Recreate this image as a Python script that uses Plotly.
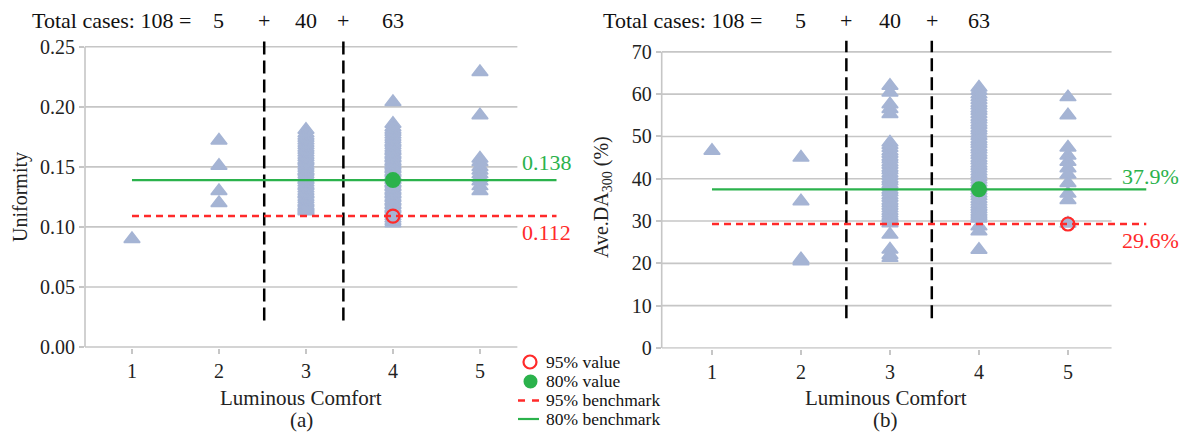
import plotly.graph_objects as go
from plotly.subplots import make_subplots

W, H = 1185, 433
FONT = "Liberation Serif, Times New Roman, serif"

# ---------------- data ----------------
lc_ticks = [1, 2, 3, 4, 5]

# Uniformity by luminous comfort level
uni_lc1 = [0.090]
uni_lc2 = [0.172, 0.151, 0.130, 0.120]
uni_lc3 = [0.181, 0.178, 0.176, 0.174, 0.172, 0.170, 0.168, 0.166, 0.164, 0.162,
           0.160, 0.158, 0.156, 0.155, 0.153, 0.151, 0.149, 0.147, 0.146, 0.144,
           0.142, 0.140, 0.139, 0.137, 0.135, 0.134, 0.132, 0.130, 0.128, 0.127,
           0.125, 0.123, 0.121, 0.120, 0.118, 0.117, 0.116, 0.115, 0.114, 0.113]
uni_lc4 = [0.204, 0.186, 0.183, 0.181, 0.179, 0.177, 0.175, 0.173, 0.171, 0.170,
           0.168, 0.166, 0.164, 0.163, 0.161, 0.160, 0.158, 0.157, 0.155, 0.154,
           0.152, 0.151, 0.149, 0.148, 0.146, 0.145, 0.143, 0.142, 0.140, 0.139,
           0.137, 0.136, 0.134, 0.133, 0.131, 0.130, 0.128, 0.127, 0.125, 0.124,
           0.122, 0.121, 0.119, 0.118, 0.116, 0.115, 0.113, 0.111, 0.109, 0.107,
           0.105, 0.103]
uni_lc5 = [0.229, 0.193, 0.157, 0.154, 0.150, 0.147, 0.144, 0.141, 0.138, 0.134, 0.130]

# Ave.DA300 (%) by luminous comfort level
da_lc1 = [46.6]
da_lc2 = [45.0, 34.7, 21.0, 20.5]
da_lc3 = [62.0, 60.4, 57.6, 56.5, 55.3, 48.6, 48.0, 47.3, 46.5, 45.9,
          45.2, 44.6, 43.9, 43.3, 42.6, 42.0, 41.3, 40.7, 40.0, 39.4,
          38.7, 38.1, 37.4, 36.8, 36.1, 35.5, 34.8, 34.2, 33.6, 33.0,
          32.4, 31.8, 31.2, 30.8, 30.2, 29.5, 26.8, 23.3, 22.0, 21.3]
da_lc4 = [61.6, 60.8, 60.0, 59.3, 58.6, 57.9, 57.3, 56.6, 56.0, 55.3,
          54.6, 54.0, 53.3, 52.7, 52.0, 51.4, 50.7, 50.1, 49.4, 48.8,
          48.2, 47.5, 46.9, 46.2, 45.6, 44.9, 44.3, 43.6, 43.0, 42.4,
          41.7, 41.1, 40.4, 39.8, 39.1, 38.5, 37.8, 37.2, 36.5, 35.9,
          35.2, 34.6, 34.0, 33.4, 32.8, 32.2, 31.7, 31.2, 30.6, 28.8,
          27.6, 23.2]
da_lc5 = [59.3, 55.0, 47.4, 45.5, 44.0, 42.5, 41.0, 39.0, 36.5, 35.0, 29.4]

# benchmarks (line level as drawn, label text as printed)
uni_b80, uni_b95 = 0.139, 0.109
uni_b80_txt, uni_b95_txt = "0.138", "0.112"
uni_v80_lc, uni_v95_lc = 4, 4
da_b80, da_b95 = 37.5, 29.3
da_b80_txt, da_b95_txt = "37.9%", "29.6%"
da_v80_lc, da_v95_lc = 4, 5
bench_x = [1, 5.88]

# group dividers and case counts
uni_div = [2.52, 3.43]
da_div = [2.51, 3.47]
count_txt = ["5", "+", "40", "+", "63"]
total_txt = "Total cases: 108 ="

uni_yticks = [0.00, 0.05, 0.10, 0.15, 0.20, 0.25]
da_yticks = [0, 10, 20, 30, 40, 50, 60, 70]

# ---------------- styles ----------------
TRI = "#a5b4d4"
GREEN = "#2bb24c"
RED = "#ff2a2a"
GRID = "#c6c6c6"


def px_x(p):
    return p / W


def px_y(p):
    return 1 - p / H


fig = make_subplots(rows=1, cols=2)

panels = [
    dict(col=1, xr=[0.46, 5.95], xend=5.43, yr=[-0.001, 0.259], ytop=0.25,
         dom=[85 / W, 562.6 / W], ydom=[px_y(348.2), px_y(36)],
         data=[uni_lc1, uni_lc2, uni_lc3, uni_lc4, uni_lc5],
         b80=uni_b80, b95=uni_b95, t80=uni_b80_txt, t95=uni_b95_txt,
         v80=uni_v80_lc, v95=uni_v95_lc, div=uni_div, dlow=0.022, dtop=0.258,
         yt=uni_yticks, fmt=".2f", lab80=0.1535, lab95=0.0955, labx=5.77,
         totx=1.70),
    dict(col=2, xr=[0.435, 5.95], xend=5.49, yr=[-0.2, 72.8], ytop=70,
         dom=[661.7 / W, 1152.5 / W], ydom=[px_y(348.8), px_y(40)],
         data=[da_lc1, da_lc2, da_lc3, da_lc4, da_lc5],
         b80=da_b80, b95=da_b95, t80=da_b80_txt, t95=da_b95_txt,
         v80=da_v80_lc, v95=da_v95_lc, div=da_div, dlow=7, dtop=72.6,
         yt=da_yticks, fmt="d", lab80=40.6, lab95=25.4, labx=5.93,
         totx=1.58),
]

shapes = []
annotations = []


def ann(**kw):
    kw.setdefault("showarrow", False)
    kw.setdefault("xanchor", "center")
    kw.setdefault("yanchor", "middle")
    annotations.append(kw)


for P in panels:
    c = P["col"]
    xa = "x" if c == 1 else "x2"
    ya = "y" if c == 1 else "y2"
    # scatter triangles
    xs, ys = [], []
    for lv, vals in zip(lc_ticks, P["data"]):
        xs += [lv] * len(vals)
        ys += vals
    fig.add_trace(go.Scatter(x=xs, y=ys, mode="markers",
                             marker=dict(symbol="triangle-up", size=14, color=TRI,
                                         line=dict(width=1.5, color=TRI)),
                             showlegend=False, hoverinfo="skip"), row=1, col=c)
    # divider dashed lines
    for d in P["div"]:
        fig.add_trace(go.Scatter(x=[d, d], y=[P["dlow"], P["dtop"]], mode="lines",
                                 line=dict(color="black", width=2.5, dash="13px,6px"),
                                 showlegend=False, hoverinfo="skip"), row=1, col=c)
    # benchmarks
    fig.add_trace(go.Scatter(x=bench_x, y=[P["b95"]] * 2, mode="lines",
                             line=dict(color=RED, width=2.5, dash="7px,5px"),
                             showlegend=False, hoverinfo="skip"), row=1, col=c)
    fig.add_trace(go.Scatter(x=bench_x, y=[P["b80"]] * 2, mode="lines",
                             line=dict(color=GREEN, width=2.2),
                             showlegend=False, hoverinfo="skip"), row=1, col=c)
    fig.add_trace(go.Scatter(x=[P["v80"]], y=[P["b80"]], mode="markers",
                             marker=dict(symbol="circle", size=16, color=GREEN),
                             showlegend=False, hoverinfo="skip"), row=1, col=c)
    fig.add_trace(go.Scatter(x=[P["v95"]], y=[P["b95"]], mode="markers",
                             marker=dict(symbol="circle-open", size=13, color=RED,
                                         line=dict(width=2.2, color=RED)),
                             showlegend=False, hoverinfo="skip"), row=1, col=c)

    # gridlines as shapes (stop at the axis end)
    for t in P["yt"]:
        shapes.append(dict(type="line", xref=xa, yref=ya, x0=P["xr"][0], x1=P["xend"],
                           y0=t, y1=t, layer="below",
                           line=dict(color=GRID, width=1.6)))
    # y axis line
    shapes.append(dict(type="line", xref=xa + " domain", yref=ya, x0=0, x1=0,
                       y0=0, y1=P["ytop"], layer="below",
                       line=dict(color=GRID, width=1.6)))

    fig.update_xaxes(row=1, col=c, range=P["xr"], domain=P["dom"], automargin=False,
                     tickvals=lc_ticks,
                     ticks="outside", ticklen=5, tickcolor=GRID, tickwidth=1.5,
                     showgrid=False, zeroline=False, showline=False,
                     tickfont=dict(family=FONT, size=20, color="#222"))
    fig.update_yaxes(row=1, col=c, range=P["yr"], domain=P["ydom"], automargin=False,
                     tickvals=P["yt"], tickformat=P["fmt"],
                     ticks="outside", ticklen=5, tickcolor=GRID, tickwidth=1.5,
                     showgrid=False, zeroline=False, showline=False,
                     tickfont=dict(family=FONT, size=20, color="#222"))

    # benchmark labels
    ann(x=P["labx"], y=P["lab80"], xref=xa, yref=ya, text=P["t80"],
        font=dict(family=FONT, size=22, color=GREEN))
    ann(x=P["labx"], y=P["lab95"], xref=xa, yref=ya, text=P["t95"],
        font=dict(family=FONT, size=22, color=RED))
    # case counts on top
    ann(x=P["totx"], y=px_y(20), xref=xa, yref="paper", text=total_txt,
        xanchor="right", font=dict(family=FONT, size=22, color="#111"))
    cpos = [2, P["div"][0], 3, P["div"][1], 4]
    for xp, t in zip(cpos, count_txt):
        ann(x=xp, y=px_y(20), xref=xa, yref="paper", text=t,
            font=dict(family=FONT, size=22, color="#111"))

# axis titles and panel captions
for cx, lab in [(301, "(a)"), (886, "(b)")]:
    ann(x=px_x(cx), y=px_y(398), xref="paper", yref="paper",
        text="Luminous Comfort", font=dict(family=FONT, size=21, color="#222"))
    ann(x=px_x(cx), y=px_y(420), xref="paper", yref="paper",
        text=lab, font=dict(family=FONT, size=21, color="#222"))
ann(x=px_x(20), y=px_y(197), xref="paper", yref="paper",
    text="Uniformity", textangle=-90, font=dict(family=FONT, size=20, color="#222"))
ann(x=px_x(602), y=px_y(197), xref="paper", yref="paper",
    text="Ave.DA<sub>300</sub> (%)", textangle=-90,
    font=dict(family=FONT, size=20, color="#222"))

# manual legend
leg_items = ["95% value", "80% value", "95% benchmark", "80% benchmark"]
leg_y = [362, 381, 400, 419]
shapes.append(dict(type="circle", xref="paper", yref="paper",
                   x0=px_x(523.5), x1=px_x(536.5), y0=px_y(368.5), y1=px_y(355.5),
                   line=dict(color=RED, width=2.2)))
shapes.append(dict(type="circle", xref="paper", yref="paper",
                   x0=px_x(523.5), x1=px_x(537.5), y0=px_y(388.5), y1=px_y(374.5),
                   fillcolor=GREEN, line=dict(color=GREEN, width=0)))
shapes.append(dict(type="line", xref="paper", yref="paper",
                   x0=px_x(518), x1=px_x(539), y0=px_y(400.5), y1=px_y(400.5),
                   line=dict(color=RED, width=2.5, dash="7px,7px")))
shapes.append(dict(type="line", xref="paper", yref="paper",
                   x0=px_x(518), x1=px_x(539), y0=px_y(419), y1=px_y(419),
                   line=dict(color=GREEN, width=2.2)))
for t, yy in zip(leg_items, leg_y):
    ann(x=px_x(544), y=px_y(yy), xref="paper", yref="paper",
        text=t, xanchor="left", font=dict(family=FONT, size=17.5, color="#111"))

fig.update_layout(width=W, height=H, margin=dict(l=0, r=0, t=0, b=0, autoexpand=False),
                  paper_bgcolor="white", plot_bgcolor="white",
                  font=dict(family=FONT),
                  shapes=shapes, annotations=annotations, showlegend=False)

fig.write_html("out.html", config={"displayModeBar": False},
               post_script="document.body.style.margin='0';document.body.style.overflow='hidden';")
